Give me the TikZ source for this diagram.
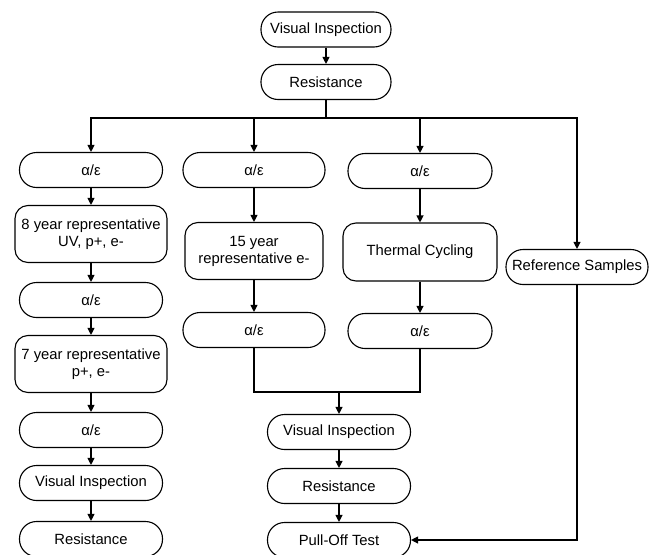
\documentclass[tikz,border=0pt]{standalone}
\usepackage{fontspec}
\setmainfont{Liberation Sans}
\usetikzlibrary{arrows.meta}
\tikzset{
  pill/.style = {draw, line width=1.1pt, rounded corners=17pt, minimum height=35pt,
                 minimum width=143pt, inner sep=0pt, align=center},
  tallbox/.style = {draw, line width=1.1pt, rounded corners=13pt, minimum height=57pt,
                 minimum width=152pt, inner sep=0pt, align=center},
  flow/.style = {line width=1.1pt, -{Triangle[length=7pt,width=7pt]}},
  wire/.style = {line width=1.1pt}
}
\newcommand{\alphaeps}{α/ε}
\begin{document}
\begin{tikzpicture}[x=1pt, y=-1pt, font=\fontsize{14.8}{17}\selectfont]
\useasboundingbox (0,0) rectangle (657,555);

%top
\node[pill, minimum width=130pt] (topvi) at (326,29.5) {Visual Inspection};
\node[pill, minimum width=130pt] (topres) at (326,82) {Resistance};
\coordinate (bus) at (326,118);

%left column
\node[pill] (la1) at (91,170) {\alphaeps};
\node[tallbox] (l8yr) at (91,234) {8 year representative\\UV, p+, e-};
\node[pill] (la2) at (91,300) {\alphaeps};
\node[tallbox] (l7yr) at (91,364) {7 year representative\\p+, e-};
\node[pill] (la3) at (91,430) {\alphaeps};
\node[pill] (lvi) at (91,483) {Visual Inspection};
\node[pill] (lres) at (91,539) {Resistance};

%middle column
\node[pill, minimum width=142pt] (ma1) at (254,170) {\alphaeps};
\node[tallbox, minimum width=138pt] (m15yr) at (254,251) {15 year\\representative e-};
\node[pill, minimum width=142pt] (ma2) at (254,330) {\alphaeps};

%third column
\node[pill, minimum width=144pt] (ta1) at (420,171) {\alphaeps};
\node[tallbox, minimum width=154pt, minimum height=58pt] (ttc) at (420,252) {Thermal Cycling};
\node[pill, minimum width=144pt] (ta2) at (420,331) {\alphaeps};

%reference
\node[pill, minimum width=142pt] (ref) at (577,267) {Reference Samples};

%bottom
\coordinate (join) at (339,392);
\node[pill] (bvi) at (339,432) {Visual Inspection};
\node[pill] (bres) at (339,486) {Resistance};
\node[pill] (pull) at (339,540) {Pull-Off Test};

%connectors
\draw[flow] (topvi) -- (topres);
\draw[wire] (topres) -- (bus);
\draw[flow] (bus) -| (la1.north);
\draw[flow] (bus) -| (ma1.north);
\draw[flow] (bus) -| (ta1.north);
\draw[flow] (bus) -| (ref.north);

\draw[flow] (la1) -- (l8yr);
\draw[flow] (l8yr) -- (la2);
\draw[flow] (la2) -- (l7yr);
\draw[flow] (l7yr) -- (la3);
\draw[flow] (la3) -- (lvi);
\draw[flow] (lvi) -- (lres);

\draw[flow] (ma1) -- (m15yr);
\draw[flow] (m15yr) -- (ma2);
\draw[flow] (ta1) -- (ttc);
\draw[flow] (ttc) -- (ta2);

\draw[wire] (ma2.south) |- (join) -| (ta2.south);
\draw[flow] (join) -- (bvi);
\draw[flow] (bvi) -- (bres);
\draw[flow] (bres) -- (pull);
\draw[flow] (ref.south) |- (pull.east);

\end{tikzpicture}
\end{document}
